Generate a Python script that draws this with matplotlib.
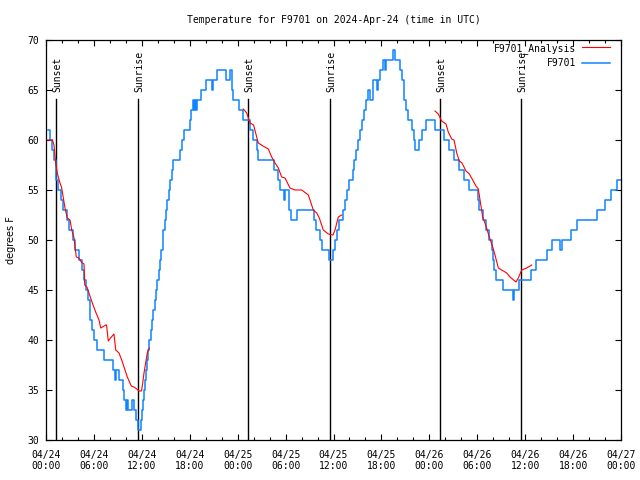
#!/usr/bin/env python3
## Temperature for F9701, observations vs. analysis, 3 days of hours from 04/24 00:00 UTC

import matplotlib
matplotlib.use("Agg")
import numpy as np
import matplotlib.pyplot as plt

## observed temperature, degrees F (hour of change, new value)
obs_hours = [0.25, 0.56, 0.75, 1.00, 1.19, 1.31, 1.50, 1.88, 2.19, 2.63, 2.94, 3.38,
             3.69, 4.13, 4.51, 4.76, 5.07, 5.32, 5.45, 5.57, 5.70, 5.95, 6.39, 7.20,
             8.45, 8.64, 8.77, 9.20, 9.58, 9.77, 9.96, 10.08, 10.21, 10.83, 10.96, 11.21,
             11.46, 11.90, 12.02, 12.15, 12.27, 12.40, 12.52, 12.65, 12.77, 12.90, 13.09, 13.27,
             13.46, 13.65, 13.77, 13.90, 14.09, 14.28, 14.40, 14.59, 14.71, 14.90, 15.03, 15.21,
             15.34, 15.53, 15.72, 15.90, 16.72, 16.97, 17.34, 17.97, 18.16, 18.35, 18.47, 18.66,
             18.78, 18.97, 19.35, 20.04, 20.79, 20.97, 21.35, 22.48, 23.04, 23.23, 23.42, 24.11,
             24.67, 25.55, 25.96, 26.38, 26.59, 28.49, 29.05, 29.30, 29.80, 29.93, 30.49, 30.74,
             31.49, 33.56, 33.87, 34.25, 34.50, 35.44, 35.88, 36.19, 36.44, 36.63, 37.13, 37.50,
             37.69, 37.88, 38.38, 38.57, 38.82, 39.07, 39.38, 39.63, 39.82, 40.01, 40.26, 40.57,
             40.95, 41.45, 41.57, 41.82, 42.14, 42.45, 42.58, 43.45, 43.76, 44.27, 44.58, 44.77,
             44.89, 45.08, 45.33, 45.89, 46.02, 46.21, 46.65, 47.08, 47.52, 48.65, 49.84, 50.46,
             51.15, 51.72, 52.34, 52.97, 54.10, 54.28, 54.72, 55.10, 55.53, 55.79, 55.91, 56.16,
             56.41, 57.23, 58.42, 58.60, 59.29, 60.73, 61.36, 62.74, 63.42, 64.36, 64.55, 65.68,
             66.43, 69.00, 70.00, 70.75, 71.50, 71.94]
obs_temps = [61, 60, 59, 58, 57, 56, 55, 54, 53, 52, 51, 50,
             49, 48, 47, 46, 45, 44, 43, 42, 41, 40, 39, 38,
             37, 36, 37, 36, 35, 34, 33, 34, 33, 34, 33, 32,
             31, 32, 33, 34, 35, 36, 37, 38, 39, 40, 41, 42,
             43, 44, 45, 46, 47, 48, 49, 50, 51, 52, 53, 54,
             55, 56, 57, 58, 59, 60, 61, 62, 63, 64, 63, 64,
             63, 64, 65, 66, 65, 66, 67, 66, 67, 65, 64, 63,
             62, 61, 60, 59, 58, 57, 56, 55, 54, 55, 53, 52,
             53, 52, 51, 50, 49, 48, 49, 50, 51, 52, 53, 54,
             55, 56, 57, 58, 59, 60, 61, 62, 63, 64, 65, 64,
             66, 65, 66, 67, 68, 67, 68, 69, 68, 67, 66, 65,
             64, 63, 62, 61, 60, 59, 60, 61, 62, 61, 60, 59,
             58, 57, 56, 55, 54, 53, 52, 51, 50, 49, 48, 47,
             46, 45, 44, 45, 46, 47, 48, 49, 50, 49, 50, 51,
             52, 53, 54, 55, 56, 56]

## analysis, three overnight pieces
ana1_hours = [0.16, 0.81, 1.00, 1.21, 1.41, 1.75, 1.94, 2.17, 2.38, 2.67, 3.01, 3.22, 3.51,
              3.79, 4.13, 4.42, 4.76, 4.85, 5.13, 5.38, 5.80, 6.22, 6.64, 6.85, 7.48, 7.58,
              7.80, 8.08, 8.51, 8.73, 9.14, 9.48, 9.77, 10.18, 10.68, 11.02, 11.36, 11.65,
              11.96, 12.11, 12.27, 12.48, 12.68, 12.94]
ana1_temps = [60.0, 60.0, 59.5, 57.7, 56.7, 55.7, 55.3, 54.2, 53.2, 52.2, 52.0, 51.0, 50.2,
              48.3, 48.2, 47.8, 47.6, 45.5, 45.3, 44.7, 43.7, 42.8, 42.0, 41.2, 41.5, 41.5,
              39.9, 40.2, 40.6, 39.0, 38.7, 38.0, 37.3, 36.3, 35.4, 35.3, 35.1, 34.9,
              34.9, 35.7, 36.7, 37.7, 38.7, 39.2]
ana2_hours = [24.71, 25.13, 25.55, 25.99, 26.58, 27.17, 27.84, 28.26, 28.68, 29.09, 29.51,
              29.93, 30.55, 31.18, 32.02, 32.85, 33.47, 33.90, 34.22, 34.72, 35.35, 35.94,
              36.19, 36.60, 37.03]
ana2_temps = [63.1, 62.7, 61.7, 61.5, 59.7, 59.4, 59.1, 58.3, 57.7, 57.2, 56.3,
              56.2, 55.2, 55.0, 55.0, 54.5, 53.0, 52.7, 52.2, 51.0, 50.6, 50.5,
              51.0, 52.3, 52.5]
ana3_hours = [48.71, 49.12, 49.55, 50.09, 50.37, 50.80, 51.09, 51.43, 51.75, 52.09, 52.59,
              53.01, 53.43, 53.84, 54.13, 54.35, 54.68, 55.10, 55.51, 55.94, 56.22, 56.64,
              57.06, 57.69, 58.10, 58.85, 59.14, 59.57, 60.19, 60.82]
ana3_temps = [62.9, 62.6, 61.9, 61.6, 60.8, 60.1, 60.0, 58.7, 57.9, 57.7, 56.9,
              56.6, 56.0, 55.4, 55.1, 54.0, 52.3, 51.4, 50.3, 49.3, 48.5, 47.2,
              47.0, 46.7, 46.3, 45.8, 46.2, 47.0, 47.2, 47.5]

## sun events (hours after 04/24 00:00 UTC)
sun_hours = [1.30, 11.55, 25.32, 35.59, 49.36, 59.51]
sun_names = ["Sunset", "Sunrise", "Sunset", "Sunrise", "Sunset", "Sunrise"]

tick_hours = list(range(0, 73, 6))
tick_labels = ["04/24\n00:00", "04/24\n06:00", "04/24\n12:00", "04/24\n18:00",
               "04/25\n00:00", "04/25\n06:00", "04/25\n12:00", "04/25\n18:00",
               "04/26\n00:00", "04/26\n06:00", "04/26\n12:00", "04/26\n18:00",
               "04/27\n00:00"]

MONO = "DejaVu Sans Mono"
plt.rcParams["font.family"] = MONO
plt.rcParams["font.size"] = 7

fig = plt.figure(figsize=(6.4, 4.8), dpi=100)
ax = fig.add_axes([46/640, 40/480, 575/640, 400/480])

for h, name in zip(sun_hours, sun_names):
    ax.plot([h, h], [30, 64.1], color="black", lw=1.0, zorder=1)
    ax.text(h + 0.1, 64.75, name, rotation=90, ha="center", va="bottom", fontsize=7)

red = "#ff0000"
blue = "#1084ff"
ln_a, = ax.plot(ana1_hours, ana1_temps, color=red, lw=0.8, label="F9701_Analysis", zorder=3)
ax.plot(ana2_hours, ana2_temps, color=red, lw=0.8, zorder=3)
ax.plot(ana3_hours, ana3_temps, color=red, lw=0.8, zorder=3)
ln_o, = ax.plot(obs_hours, obs_temps, color=blue, lw=1.1, drawstyle="steps-post",
                label="F9701", zorder=2)

ax.set_xlim(0, 72)
ax.set_ylim(30, 70)
ax.set_xticks(tick_hours)
ax.set_xticklabels(tick_labels)
ax.set_xticks(np.arange(0, 73, 2), minor=True)
ax.set_yticks(np.arange(30, 71, 5))
ax.tick_params(which="major", direction="in", top=True, right=True, length=4, width=0.8, pad=7)
ax.tick_params(which="minor", direction="in", top=True, right=False, left=False, length=2, width=0.8)
ax.tick_params(axis="y", which="major", pad=5)
for s in ax.spines.values():
    s.set_linewidth(0.9)

ax.set_title("Temperature for F9701 on 2024-Apr-24 (time in UTC)", fontsize=7, pad=12)
fig.text(11/640, 0.5, "degrees F", rotation=90, ha="center", va="center",
         family="DejaVu Sans", fontsize=7)

leg = ax.legend(handles=[ln_a, ln_o], loc="upper right", bbox_to_anchor=(0.981, 0.993),
                frameon=False, markerfirst=False, handlelength=2.9, handletextpad=0.6,
                labelspacing=0.45, borderaxespad=0, borderpad=0, fontsize=7)

fig.savefig("out.png", dpi=100)
